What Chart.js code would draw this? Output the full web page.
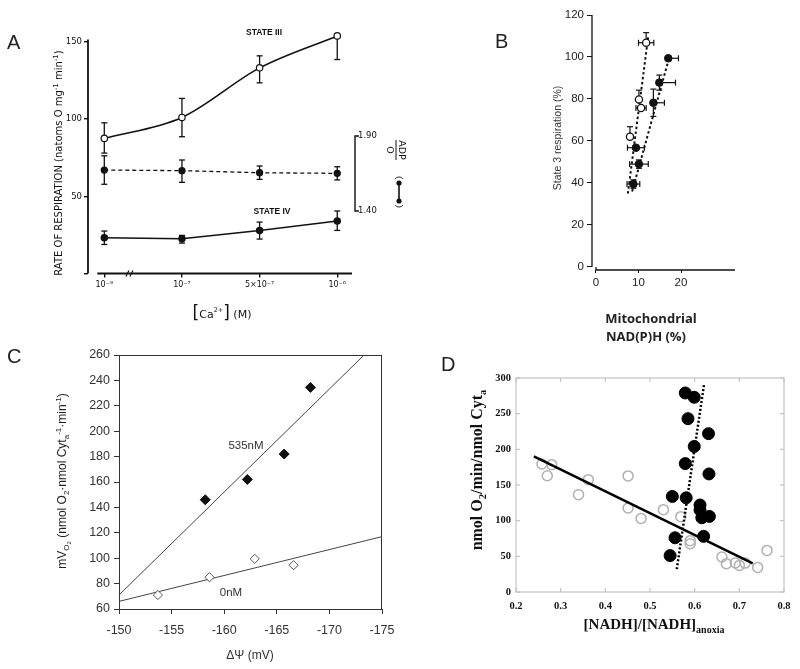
<!DOCTYPE html>
<html><head><meta charset="utf-8">
<script src="https://cdn.jsdelivr.net/npm/chart.js@4.4.1/dist/chart.umd.min.js"></script>
<style>
html,body{margin:0;padding:0;background:#fff;}
#wrap{position:relative;width:800px;height:669px;overflow:hidden;background:#fff;}
#wrap canvas{position:absolute;left:0;top:0;}
</style></head><body>
<div id="wrap">
<canvas id="cA" width="800" height="669"></canvas>
<canvas id="cB" width="800" height="669"></canvas>
<canvas id="cC" width="800" height="669"></canvas>
<canvas id="cD" width="800" height="669"></canvas>
</div>
<script>
// ---------- Panel A data ----------
const aCategories = ['10⁻⁹', '10⁻⁷', '5×10⁻⁷', '10⁻⁶'];
const aStateIII   = [87.5, 101.1, 133.2, 153.9];
const aStateIIILo = [78.0, 88.6, 123.5, 138.6];
const aStateIIIHi = [97.6, 113.4, 141.0, 153.9];
const aAdpO       = [1.673, 1.669, 1.655, 1.651];
const aAdpOLo     = [1.578, 1.591, 1.611, 1.607];
const aAdpOHi     = [1.768, 1.740, 1.700, 1.695];
const aStateIV    = [23.2, 22.5, 27.9, 34.0];
const aStateIVLo  = [18.8, 19.7, 22.3, 27.9];
const aStateIVHi  = [27.5, 24.7, 33.3, 40.5];
const aYTicks  = [0, 50, 100, 150];
const aY2Ticks = [1.40, 1.90];

// ---------- Panel B data ----------
const bOpenX    = [11.8, 10.1, 10.6, 8.0];
const bOpenY    = [106.8, 79.8, 75.7, 62.0];
const bOpenXErr = [1.8, 0, 1.2, 0];
const bOpenYErr = [4.8, 4.4, 0, 4.8];
const bFillX    = [17.0, 14.9, 13.5, 9.4, 10.1, 8.8];
const bFillY    = [99.4, 87.8, 78.2, 56.8, 49.0, 39.5];
const bFillXErrLo = [0, 0, 0, 2.0, 2.2, 1.5];
const bFillXErrHi = [2.4, 3.8, 2.6, 2.0, 2.2, 1.5];
const bFillYErr   = [0, 3.6, 6.5, 0, 2.0, 2.0];
const bOpenFitX = [7.5, 12.3], bOpenFitY = [35, 110];
const bFillFitX = [8.5, 17.4], bFillFitY = [36, 101];
const bXTicks = [0, 10, 20];
const bYTicks = [0, 20, 40, 60, 80, 100, 120];

// ---------- Panel C data ----------
const cX535 = [-158.2, -162.2, -165.7, -168.2];
const cY535 = [146, 162, 182, 234.5];
const cX0   = [-153.7, -158.6, -162.9, -166.6];
const cY0   = [71, 85, 99.5, 94.5];
const cFit535X = [-150, -173.3], cFit535Y = [71, 260];
const cFit0X   = [-150, -175],   cFit0Y   = [66, 117];
const cXTicks = [-150, -155, -160, -165, -170, -175];
const cYTicks = [60, 80, 100, 120, 140, 160, 180, 200, 220, 240, 260];

// ---------- Panel D data ----------
const dFillX = [0.579, 0.599, 0.585, 0.631, 0.599, 0.579, 0.632, 0.550, 0.581, 0.612, 0.612, 0.616, 0.633, 0.556, 0.620, 0.545];
const dFillY = [279, 273, 243, 222, 204, 180, 165.5, 134, 132, 122, 115, 104, 106, 76, 78, 51];
const dOpenX = [0.258, 0.280, 0.270, 0.340, 0.362, 0.451, 0.451, 0.480, 0.530, 0.569, 0.590, 0.590, 0.661, 0.671, 0.691, 0.700, 0.713, 0.741, 0.762];
const dOpenY = [179.5, 178.5, 163, 136.5, 157.5, 162.7, 117.8, 103, 115.4, 105.6, 72, 67.7, 49, 39.7, 40.6, 37.3, 40.5, 34.5, 58.3];
const dSolidX = [0.24, 0.73], dSolidY = [190, 40];
const dDotX = [0.56, 0.621], dDotY = [32, 291];
const dXTicks = [0.2, 0.3, 0.4, 0.5, 0.6, 0.7, 0.8];
const dYTicks = [0, 50, 100, 150, 200, 250, 300];

// ---------- helpers ----------
const pts = (xs, ys) => xs.map((x, i) => ({x: x, y: ys[i]}));
const fixTicks = arr => (s => { s.ticks = arr.map(v => ({value: v})); });
const common = {responsive: false, animation: false, devicePixelRatio: 1, events: [],
  plugins: {legend: {display: false}, tooltip: {enabled: false}}};

function line(ctx, x1, y1, x2, y2) { ctx.beginPath(); ctx.moveTo(x1, y1); ctx.lineTo(x2, y2); ctx.stroke(); }
function vbar(ctx, x, y1, y2, cap) { line(ctx, x, y1, x, y2); line(ctx, x - cap, y1, x + cap, y1); line(ctx, x - cap, y2, x + cap, y2); }
function hbar(ctx, y, x1, x2, cap) { line(ctx, x1, y, x2, y); line(ctx, x1, y - cap, x1, y + cap); line(ctx, x2, y - cap, x2, y + cap); }
function rich(ctx, parts, x, y, rot, align, color) {
  ctx.save(); ctx.translate(x, y); ctx.rotate(rot || 0); ctx.fillStyle = color || '#111'; ctx.textBaseline = 'alphabetic';
  let w = 0; parts.forEach(p => { ctx.font = p.f; p.w = ctx.measureText(p.t).width; w += p.w; });
  let cx = align === 'left' ? 0 : align === 'right' ? -w : -w / 2;
  parts.forEach(p => { ctx.font = p.f; ctx.fillText(p.t, cx, p.dy || 0); cx += p.w; });
  ctx.restore();
}
function letter(ctx, t, x, y) { ctx.save(); ctx.font = '20px "Liberation Sans"'; ctx.fillStyle = '#222'; ctx.textAlign = 'left'; ctx.textBaseline = 'middle'; ctx.fillText(t, x, y); ctx.restore(); }

// ================= Panel A =================
const plugA = {id: 'pA',
  beforeDatasetsDraw(chart) {
    const ctx = chart.ctx, x = chart.scales.x, y = chart.scales.y, y2 = chart.scales.y2, ca = chart.chartArea;
    ctx.save(); ctx.strokeStyle = '#111';
    // y axis line (0..150)
    ctx.lineWidth = 1.8;
    line(ctx, ca.left, y.getPixelForValue(151.5), ca.left, y.getPixelForValue(0));
    ctx.lineWidth = 1.3;
    aStateIII.forEach((v, i) => vbar(ctx, x.getPixelForValue(i), y.getPixelForValue(aStateIIILo[i]), y.getPixelForValue(aStateIIIHi[i]), 3));
    aAdpO.forEach((v, i) => vbar(ctx, x.getPixelForValue(i), y2.getPixelForValue(aAdpOLo[i]), y2.getPixelForValue(aAdpOHi[i]), 3));
    aStateIV.forEach((v, i) => vbar(ctx, x.getPixelForValue(i), y.getPixelForValue(aStateIVLo[i]), y.getPixelForValue(aStateIVHi[i]), 3));
    // x axis line with break
    ctx.lineWidth = 1.8;
    line(ctx, x.getPixelForValue(-0.09), ca.bottom, ca.right, ca.bottom);
    const bx = x.getPixelForValue(0.33);
    ctx.lineWidth = 1.2;
    line(ctx, bx - 4, ca.bottom + 3, bx - 1, ca.bottom - 3);
    line(ctx, bx, ca.bottom + 3, bx + 3, ca.bottom - 3);
    // right bracket for ADP/O axis
    const t = y2.getPixelForValue(1.90), b = y2.getPixelForValue(1.40), rx = ca.right + 3;
    ctx.lineWidth = 1.4;
    ctx.beginPath(); ctx.moveTo(rx + 4, t); ctx.lineTo(rx, t); ctx.lineTo(rx, b); ctx.lineTo(rx + 4, b); ctx.stroke();
    ctx.restore();
  },
  afterDraw(chart) {
    const ctx = chart.ctx;
    letter(ctx, 'A', 7, 43);
    rich(ctx, [{t: 'STATE III', f: 'bold 8.5px "Liberation Sans"'}], 264, 35, 0, 'center');
    rich(ctx, [{t: 'STATE IV', f: 'bold 8.5px "Liberation Sans"'}], 272, 214, 0, 'center');
    const ft = '10px "DejaVu Sans"', fs = '7px "DejaVu Sans"';
    rich(ctx, [{t: 'RATE OF RESPIRATION (natoms O mg', f: ft}, {t: '-1', f: fs, dy: -4}, {t: ' min', f: ft}, {t: '-1', f: fs, dy: -4}, {t: ')', f: ft}], 62, 163, -Math.PI / 2, 'center');
    rich(ctx, [{t: '[', f: '17px "DejaVu Sans"'}, {t: 'Ca', f: '11px "DejaVu Sans"'}, {t: '2+', f: '6.5px "DejaVu Sans"', dy: -6}, {t: ']', f: '17px "DejaVu Sans"'}, {t: ' (M)', f: '11px "DejaVu Sans"'}], 222, 318, 0, 'center');
    // ADP/O label
    ctx.save(); ctx.translate(396, 150); ctx.rotate(Math.PI / 2); ctx.fillStyle = '#111'; ctx.strokeStyle = '#111';
    ctx.font = '9.5px "DejaVu Sans"'; ctx.textAlign = 'center'; ctx.textBaseline = 'alphabetic';
    ctx.fillText('ADP', 0, -2.5); ctx.lineWidth = 1; line(ctx, -10, 0, 10, 0); ctx.fillText('O', 0, 9.5);
    ctx.restore();
    ctx.save(); ctx.strokeStyle = '#111'; ctx.fillStyle = '#111'; ctx.lineWidth = 1.6;
    line(ctx, 399, 183, 399, 201);
    ctx.beginPath(); ctx.arc(399, 183, 2.6, 0, Math.PI * 2); ctx.fill();
    ctx.beginPath(); ctx.arc(399, 201, 2.6, 0, Math.PI * 2); ctx.fill();
    ctx.lineWidth = 0.9;
    ctx.beginPath(); ctx.arc(399, 182, 5, Math.PI * 1.2, Math.PI * 1.8); ctx.stroke();
    ctx.beginPath(); ctx.arc(399, 202, 5, Math.PI * 0.2, Math.PI * 0.8); ctx.stroke();
    ctx.restore();
  }
};
new Chart(document.getElementById('cA'), {
  type: 'line',
  data: {datasets: [
    {data: aStateIII.map((v, i) => ({x: i, y: v})), yAxisID: 'y', clip: false, borderColor: '#111', borderWidth: 1.6, tension: 0.4, cubicInterpolationMode: 'monotone',
      pointRadius: 3.2, pointBackgroundColor: '#fff', pointBorderColor: '#111', pointBorderWidth: 1.2},
    {data: aAdpO.map((v, i) => ({x: i, y: v})), yAxisID: 'y2', clip: false, borderColor: '#111', borderWidth: 1.3, borderDash: [4, 3], tension: 0,
      pointRadius: 3, pointBackgroundColor: '#111', pointBorderColor: '#111'},
    {data: aStateIV.map((v, i) => ({x: i, y: v})), yAxisID: 'y', clip: false, borderColor: '#111', borderWidth: 1.5, tension: 0,
      pointRadius: 3, pointBackgroundColor: '#111', pointBorderColor: '#111'}
  ]},
  options: Object.assign({}, common, {
    layout: {padding: {left: 56, right: 408, top: 26.5, bottom: 375.5}},
    scales: {
      x: {type: 'linear', min: -0.21, max: 3.19, afterBuildTicks: fixTicks([0, 1, 2, 3]), afterFit: s => { s.height = 20; },
        grid: {drawOnChartArea: false, tickLength: 4, color: '#111', lineWidth: 1.4}, border: {display: false},
        ticks: {padding: 3, color: '#111', font: {family: 'DejaVu Sans', size: 8}, maxRotation: 0, autoSkip: false, callback: (v, i) => aCategories[i]}},
      y: {min: 0, max: 160, afterBuildTicks: fixTicks(aYTicks), afterFit: s => { s.width = 32; },
        grid: {drawOnChartArea: false, tickLength: 4, color: '#111', lineWidth: 1.4}, border: {display: false},
        ticks: {padding: 2, color: '#111', font: {family: 'DejaVu Sans', size: 8.5}, callback: v => v === 0 ? '' : String(v)}},
      y2: {position: 'right', min: 0.9833, max: 2.63, afterBuildTicks: fixTicks(aY2Ticks), afterFit: s => { s.width = 40; },
        grid: {display: false, drawTicks: false}, border: {display: false},
        ticks: {padding: 6, color: '#111', font: {family: 'DejaVu Sans', size: 8.5}, callback: v => v.toFixed(2)}}
    }
  }),
  plugins: [plugA]
});

// ================= Panel B =================
const plugB = {id: 'pB',
  beforeDatasetsDraw(chart) {
    const ctx = chart.ctx, x = chart.scales.x, y = chart.scales.y, ca = chart.chartArea;
    ctx.save(); ctx.strokeStyle = '#111'; ctx.lineWidth = 1.3;
    line(ctx, ca.left, y.getPixelForValue(120), ca.left, y.getPixelForValue(0));
    line(ctx, x.getPixelForValue(0), ca.bottom, ca.right, ca.bottom);
    line(ctx, x.getPixelForValue(0), ca.bottom, x.getPixelForValue(0), ca.bottom - 3);
    ctx.lineWidth = 1.2;
    bOpenX.forEach((v, i) => {
      const px = x.getPixelForValue(v), py = y.getPixelForValue(bOpenY[i]);
      if (bOpenXErr[i] > 0) hbar(ctx, py, x.getPixelForValue(v - bOpenXErr[i]), x.getPixelForValue(v + bOpenXErr[i]), 3);
      if (bOpenYErr[i] > 0) { const ty = y.getPixelForValue(bOpenY[i] + bOpenYErr[i]); line(ctx, px, py, px, ty); line(ctx, px - 3, ty, px + 3, ty); }
    });
    bFillX.forEach((v, i) => {
      const px = x.getPixelForValue(v), py = y.getPixelForValue(bFillY[i]);
      hbar(ctx, py, x.getPixelForValue(v - bFillXErrLo[i]), x.getPixelForValue(v + bFillXErrHi[i]), 3);
      if (bFillYErr[i] > 0) vbar(ctx, px, y.getPixelForValue(bFillY[i] - bFillYErr[i]), y.getPixelForValue(bFillY[i] + bFillYErr[i]), 3);
    });
    ctx.restore();
  },
  afterDraw(chart) {
    const ctx = chart.ctx;
    letter(ctx, 'B', 495, 42);
    rich(ctx, [{t: 'State 3 respiration (%)', f: '10.5px "Liberation Sans"'}], 561, 138, -Math.PI / 2, 'center', '#333');
    rich(ctx, [{t: 'Mitochondrial', f: 'bold 13px "Open Sans"'}], 651, 323, 0, 'center', '#222');
    rich(ctx, [{t: 'NAD(P)H (%)', f: 'bold 13px "Open Sans"'}], 646, 341, 0, 'center', '#222');
  }
};
new Chart(document.getElementById('cB'), {
  type: 'scatter',
  data: {datasets: [
    {data: pts(bFillX, bFillY), pointRadius: 3.8, pointBackgroundColor: '#111', pointBorderColor: '#111', order: 0},
    {data: pts(bOpenX, bOpenY), pointRadius: 3.6, pointBackgroundColor: '#fff', pointBorderColor: '#111', pointBorderWidth: 1.3, order: 1},
    {data: pts(bOpenFitX, bOpenFitY), showLine: true, pointRadius: 0, borderColor: '#111', borderWidth: 2, borderDash: [2.5, 2.5], order: 2},
    {data: pts(bFillFitX, bFillFitY), showLine: true, pointRadius: 0, borderColor: '#111', borderWidth: 2, borderDash: [2.5, 2.5], order: 3}
  ]},
  options: Object.assign({}, common, {
    layout: {padding: {left: 562, right: 65, top: 15, bottom: 379}},
    scales: {
      x: {type: 'linear', min: -0.94, max: 32.7, afterBuildTicks: fixTicks(bXTicks), afterFit: s => { s.height = 20; },
        grid: {drawOnChartArea: false, tickLength: 3, color: '#111'}, border: {display: false},
        ticks: {padding: 3, color: '#222', font: {family: 'Liberation Sans', size: 11.5}, maxRotation: 0}},
      y: {min: -1.43, max: 120, afterBuildTicks: fixTicks(bYTicks), afterFit: s => { s.width = 30; },
        grid: {drawOnChartArea: false, tickLength: 5, color: '#111'}, border: {display: false},
        ticks: {padding: 3, color: '#222', font: {family: 'Liberation Sans', size: 11.5}}}
    }
  }),
  plugins: [plugB]
});

// ================= Panel C =================
const plugC = {id: 'pC',
  beforeDatasetsDraw(chart) {
    const ctx = chart.ctx, ca = chart.chartArea;
    ctx.save(); ctx.strokeStyle = '#333'; ctx.lineWidth = 1;
    line(ctx, ca.left, ca.top + 0.5, ca.right, ca.top + 0.5);
    line(ctx, ca.right - 0.5, ca.top, ca.right - 0.5, ca.bottom);
    ctx.restore();
  },
  afterDraw(chart) {
    const ctx = chart.ctx;
    letter(ctx, 'C', 7, 357);
    ctx.save(); ctx.fillStyle = '#333'; ctx.font = '11.5px "Liberation Sans"'; ctx.textAlign = 'center'; ctx.textBaseline = 'middle';
    ctx.fillText('535nM', 246, 446); ctx.fillText('0nM', 231, 593);
    ctx.font = '12px "Liberation Sans"'; ctx.fillText('ΔΨ (mV)', 250, 656);
    ctx.restore();
    const f = '12px "Liberation Sans"', s = '8px "Liberation Sans"';
    rich(ctx, [{t: 'mV', f: f}, {t: 'O', f: s, dy: 3}, {t: '2', f: '6px "Liberation Sans"', dy: 5}, {t: ' (nmol O', f: f}, {t: '2', f: s, dy: 3},
      {t: '·nmol Cyt', f: f}, {t: 'a', f: s, dy: 3}, {t: '-1', f: s, dy: -5}, {t: '·min', f: f}, {t: '-1', f: s, dy: -5}, {t: ')', f: f}],
      66, 481, -Math.PI / 2, 'center', '#222');
  }
};
new Chart(document.getElementById('cC'), {
  type: 'scatter',
  data: {datasets: [
    {data: pts(cX535, cY535), pointStyle: 'rectRot', pointRadius: 5, pointBackgroundColor: '#111', pointBorderColor: '#111', order: 0},
    {data: pts(cX0, cY0), pointStyle: 'rectRot', pointRadius: 4.6, pointBackgroundColor: '#fff', pointBorderColor: '#555', pointBorderWidth: 1, order: 1},
    {data: pts(cFit535X, cFit535Y), showLine: true, pointRadius: 0, borderColor: '#444', borderWidth: 1, order: 2},
    {data: pts(cFit0X, cFit0Y), showLine: true, pointRadius: 0, borderColor: '#444', borderWidth: 1, order: 3}
  ]},
  options: Object.assign({}, common, {
    layout: {padding: {left: 79, right: 418, top: 355, bottom: 28}},
    scales: {
      x: {type: 'linear', reverse: true, min: -175, max: -150, afterBuildTicks: fixTicks(cXTicks), afterFit: s => { s.height = 32; },
        grid: {drawOnChartArea: false, tickLength: 5, color: '#333'}, border: {color: '#333', width: 1},
        ticks: {padding: 9, color: '#333', font: {family: 'Liberation Sans', size: 12.5}, maxRotation: 0, callback: v => String(v)}},
      y: {min: 60, max: 260, afterBuildTicks: fixTicks(cYTicks), afterFit: s => { s.width = 40; },
        grid: {drawOnChartArea: false, tickLength: 5, color: '#333'}, border: {color: '#333', width: 1},
        ticks: {padding: 4, color: '#333', font: {family: 'Liberation Sans', size: 12.5}}}
    }
  }),
  plugins: [plugC]
});

// ================= Panel D =================
const plugD = {id: 'pD',
  beforeDatasetsDraw(chart) {
    const ctx = chart.ctx, x = chart.scales.x, y = chart.scales.y, ca = chart.chartArea;
    ctx.save(); ctx.strokeStyle = '#c4c4c4'; ctx.lineWidth = 1.2;
    ctx.strokeRect(ca.left, ca.top, ca.right - ca.left, ca.bottom - ca.top);
    dXTicks.forEach(v => { const p = x.getPixelForValue(v); line(ctx, p, ca.bottom, p, ca.bottom - 4); line(ctx, p, ca.top, p, ca.top + 4); });
    dYTicks.forEach(v => { const p = y.getPixelForValue(v); line(ctx, ca.left, p, ca.left + 4, p); line(ctx, ca.right, p, ca.right - 4, p); });
    ctx.restore();
  },
  afterDraw(chart) {
    const ctx = chart.ctx;
    letter(ctx, 'D', 441, 365);
    const f = 'bold 16px "Liberation Serif"', s = 'bold 10.5px "Liberation Serif"';
    rich(ctx, [{t: 'nmol O', f: f}, {t: '2', f: s, dy: 4}, {t: '/min/nmol Cyt', f: f}, {t: 'a', f: s, dy: 4}], 482, 470, -Math.PI / 2, 'center', '#111');
    rich(ctx, [{t: '[NADH]/[NADH]', f: 'bold 15px "Liberation Serif"'}, {t: 'anoxia', f: 'bold 10px "Liberation Serif"', dy: 4}], 654, 629, 0, 'center', '#111');
  }
};
new Chart(document.getElementById('cD'), {
  type: 'scatter',
  data: {datasets: [
    {data: pts(dFillX, dFillY), pointRadius: 6, pointBackgroundColor: '#000', pointBorderColor: '#000', order: 0},
    {data: pts(dSolidX, dSolidY), showLine: true, pointRadius: 0, borderColor: '#000', borderWidth: 2.5, order: 1},
    {data: pts(dDotX, dDotY), showLine: true, pointRadius: 0, borderColor: '#000', borderWidth: 2.5, borderDash: [2, 2], order: 2},
    {data: pts(dOpenX, dOpenY), pointRadius: 5, pointBackgroundColor: 'rgba(255,255,255,0)', pointBorderColor: '#b0b0b0', pointBorderWidth: 1.5, order: 3}
  ]},
  options: Object.assign({}, common, {
    layout: {padding: {left: 476, right: 16, top: 378, bottom: 57}},
    scales: {
      x: {type: 'linear', min: 0.2, max: 0.8, afterBuildTicks: fixTicks(dXTicks), afterFit: s => { s.height = 20; },
        grid: {display: false, drawTicks: false}, border: {display: false},
        ticks: {padding: 8, color: '#111', font: {family: 'Liberation Serif', size: 10.5, weight: 'bold'}, maxRotation: 0, callback: v => v.toFixed(1)}},
      y: {min: 0, max: 300, afterBuildTicks: fixTicks(dYTicks), afterFit: s => { s.width = 40; },
        grid: {display: false, drawTicks: false}, border: {display: false},
        ticks: {padding: 5, color: '#111', font: {family: 'Liberation Serif', size: 10.5, weight: 'bold'}}}
    }
  }),
  plugins: [plugD]
});
</script>
</body></html>
